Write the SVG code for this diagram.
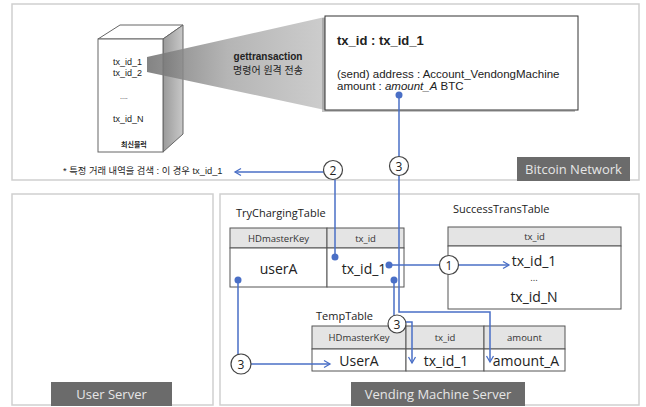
<svg xmlns="http://www.w3.org/2000/svg" width="646" height="407" viewBox="0 0 646 407">
  <defs>
    <linearGradient id="beam" x1="0" y1="0" x2="1" y2="0">
      <stop offset="0" stop-color="#6e6e6e"/>
      <stop offset="0.45" stop-color="#a8a8a8"/>
      <stop offset="1" stop-color="#c4c4c4"/>
    </linearGradient>
    <linearGradient id="side" x1="0" y1="0" x2="1" y2="0">
      <stop offset="0" stop-color="#9a9a9a"/>
      <stop offset="1" stop-color="#c8c8c8"/>
    </linearGradient>
    <marker id="arrow" markerWidth="10" markerHeight="10" refX="8" refY="5" orient="auto" markerUnits="userSpaceOnUse">
      <polyline points="2,1.5 8,5 2,8.5" fill="none" stroke="#4a6fc6" stroke-width="1.3"/>
    </marker>
  </defs>
  <style>
    .panel { fill: #ffffff; stroke: #cfcfcf; stroke-width: 1.5; }
    .tag { fill: #6b6b6b; }
    .tagtxt { font-family: "Open Sans", "Noto Sans", sans-serif; font-size: 13px; fill: #e6e6e6; text-anchor: middle; }
    .cell { fill: #ffffff; stroke: #555555; stroke-width: 1; }
    .head { fill: #e4e4e4; stroke: #555555; stroke-width: 1; }
    .htxt { font-family: "Open Sans", "Noto Sans", sans-serif; font-size: 9.5px; fill: #333333; text-anchor: middle; }
    .btxt { font-family: "Open Sans", "Noto Sans", sans-serif; font-size: 14px; fill: #222222; text-anchor: middle; }
    .title { font-family: "Open Sans", "Noto Sans", sans-serif; font-size: 11px; fill: #222222; }
    .sans { font-family: "Liberation Sans", Arial, "Noto Sans CJK KR", sans-serif; fill: #222222; }
    .link { fill: none; stroke: #4a6fc6; stroke-width: 1.5; }
    .dot { fill: #4a6fc6; }
    .num circle { fill: #ffffff; stroke: #444444; stroke-width: 1.2; }
    .num text { font-family: "Open Sans", "Noto Sans", sans-serif; font-size: 12px; fill: #222222; text-anchor: middle; }
  </style>

  <!-- Bitcoin Network panel -->
  <g id="bitcoin-network">
    <rect class="panel" x="12" y="4" width="627" height="176"/>
    <rect class="tag" x="517" y="157" width="113" height="24"/>
    <text class="tagtxt" x="573.5" y="174">Bitcoin Network</text>
  </g>

  <!-- User Server panel -->
  <g id="user-server">
    <rect class="panel" x="12" y="194" width="201" height="211"/>
    <rect class="tag" x="51" y="382" width="121" height="24"/>
    <text class="tagtxt" x="111.5" y="399">User Server</text>
  </g>

  <!-- Vending Machine Server panel -->
  <g id="vending-machine-server">
    <rect class="panel" x="220" y="194" width="419" height="211"/>
    <rect class="tag" x="351" y="382" width="174" height="24"/>
    <text class="tagtxt" x="438" y="399">Vending Machine Server</text>
  </g>

  <!-- latest block drawn as a 3D box -->
  <g id="latest-block">
    <polygon points="98,39 120,25 183,25 163,39" fill="#ffffff" stroke="#666666" stroke-width="1"/>
    <polygon points="163,39 183,25 183,134 163,152" fill="url(#side)" stroke="#666666" stroke-width="1"/>
    <rect x="98" y="39" width="65" height="113" fill="#ffffff" stroke="#666666" stroke-width="1"/>
    <text class="sans" x="113" y="65" font-size="9">tx_id_1</text>
    <text class="sans" x="113" y="76" font-size="9">tx_id_2</text>
    <text class="sans" x="120" y="99" font-size="7" fill="#888888">....</text>
    <text class="sans" x="113" y="122" font-size="9">tx_id_N</text>
    <text class="sans" x="121" y="147" font-size="7" font-weight="bold">최신블럭</text>
  </g>

  <!-- gettransaction beam -->
  <g id="gettransaction">
    <polygon points="147,57 147,72 325,110 325,17" fill="url(#beam)" opacity="0.85"/>
    <text class="sans" x="268" y="60" font-size="10" font-weight="bold" text-anchor="middle">gettransaction</text>
    <text class="sans" x="268" y="74" font-size="10" text-anchor="middle" fill="#333333">명령어 원격 전송</text>
  </g>

  <!-- transaction detail box -->
  <g id="tx-detail">
    <rect x="322" y="18" width="253" height="94" fill="#8a8a8a" opacity="0.5"/>
    <rect x="325" y="16" width="253" height="94" fill="#ffffff" stroke="#333333" stroke-width="1"/>
    <text class="sans" x="337" y="45" font-size="13" font-weight="bold" fill="#111111">tx_id : tx_id_1</text>
    <text class="sans" x="337" y="78" font-size="11.5">(send) address : Account_VendongMachine</text>
    <text class="sans" x="337" y="90" font-size="11.5">amount : <tspan font-style="italic">amount_A</tspan> BTC</text>
  </g>

  <!-- search note -->
  <g id="search-note">
    <text class="sans" x="63" y="174" font-size="9.3">* 특정 거래 내역을 검색 : 이 경우 tx_id_1</text>
  </g>

  <!-- TryChargingTable -->
  <g id="try-charging-table">
    <text class="title" x="236" y="217">TryChargingTable</text>
    <rect class="head" x="230" y="228" width="97" height="20"/>
    <rect class="head" x="327" y="228" width="77" height="20"/>
    <rect class="cell" x="230" y="248" width="97" height="39"/>
    <rect class="cell" x="327" y="248" width="77" height="39"/>
    <text class="htxt" x="278.5" y="242">HDmasterKey</text>
    <text class="htxt" x="365.5" y="242">tx_id</text>
    <text class="btxt" x="278.5" y="274">userA</text>
    <text class="btxt" x="364" y="274">tx_id_1</text>
  </g>

  <!-- SuccessTransTable -->
  <g id="success-trans-table">
    <text class="title" x="453" y="213">SuccessTransTable</text>
    <rect class="head" x="448" y="227" width="173" height="19"/>
    <rect class="cell" x="448" y="246" width="173" height="63"/>
    <text class="htxt" x="534.5" y="240">tx_id</text>
    <text class="btxt" x="534" y="266">tx_id_1</text>
    <text class="htxt" x="534" y="281" font-size="8">...</text>
    <text class="btxt" x="534" y="302">tx_id_N</text>
  </g>

  <!-- TempTable -->
  <g id="temp-table">
    <text class="title" x="316" y="320">TempTable</text>
    <rect class="head" x="312" y="326" width="94" height="23"/>
    <rect class="head" x="406" y="326" width="78" height="23"/>
    <rect class="head" x="484" y="326" width="81" height="23"/>
    <rect class="cell" x="312" y="349" width="94" height="22"/>
    <rect class="cell" x="406" y="349" width="78" height="22"/>
    <rect class="cell" x="484" y="349" width="81" height="22"/>
    <text class="htxt" x="359" y="341">HDmasterKey</text>
    <text class="htxt" x="445" y="341">tx_id</text>
    <text class="htxt" x="524.5" y="341">amount</text>
    <text class="btxt" x="359" y="366">UserA</text>
    <text class="btxt" x="446" y="366">tx_id_1</text>
    <text class="btxt" x="526" y="366">amount_A</text>
  </g>

  <!-- connectors -->
  <g id="connectors">
    <!-- step 1: tx_id_1 copied into SuccessTransTable -->
    <path class="link" d="M389,265 H440"/>
    <path class="link" d="M458,265 H509" marker-end="url(#arrow)"/>
    <!-- step 2: look up the transaction -->
    <path class="link" d="M335,257 V179"/>
    <path class="link" d="M324,172 H235" marker-end="url(#arrow)"/>
    <!-- step 3: amount from the transaction into TempTable -->
    <path class="link" d="M399,95 V157"/>
    <path class="link" d="M399,175 V312 H490 V362" marker-end="url(#arrow)"/>
    <!-- step 3: tx_id into TempTable -->
    <path class="link" d="M394,280 V316"/>
    <path class="link" d="M404,322 H412 V363" marker-end="url(#arrow)"/>
    <!-- step 3: user key into TempTable -->
    <path class="link" d="M238,280 V355 H241"/>
    <path class="link" d="M251,364 H330" marker-end="url(#arrow)"/>

    <circle class="dot" cx="399" cy="95" r="3.5"/>
    <circle class="dot" cx="335" cy="257" r="3.5"/>
    <circle class="dot" cx="389" cy="265" r="3.5"/>
    <circle class="dot" cx="394" cy="280" r="3.5"/>
    <circle class="dot" cx="238" cy="280" r="3.5"/>

    <g class="num"><circle cx="449" cy="265" r="9.5"/><text x="449" y="269.5">1</text></g>
    <g class="num"><circle cx="333" cy="170" r="9.5"/><text x="333" y="174.5">2</text></g>
    <g class="num"><circle cx="399" cy="166" r="9.5"/><text x="399" y="170.5">3</text></g>
    <g class="num"><circle cx="397" cy="324" r="9"/><text x="397" y="328.5">3</text></g>
    <g class="num"><circle cx="241" cy="364" r="10"/><text x="241" y="368.5">3</text></g>
  </g>
</svg>
